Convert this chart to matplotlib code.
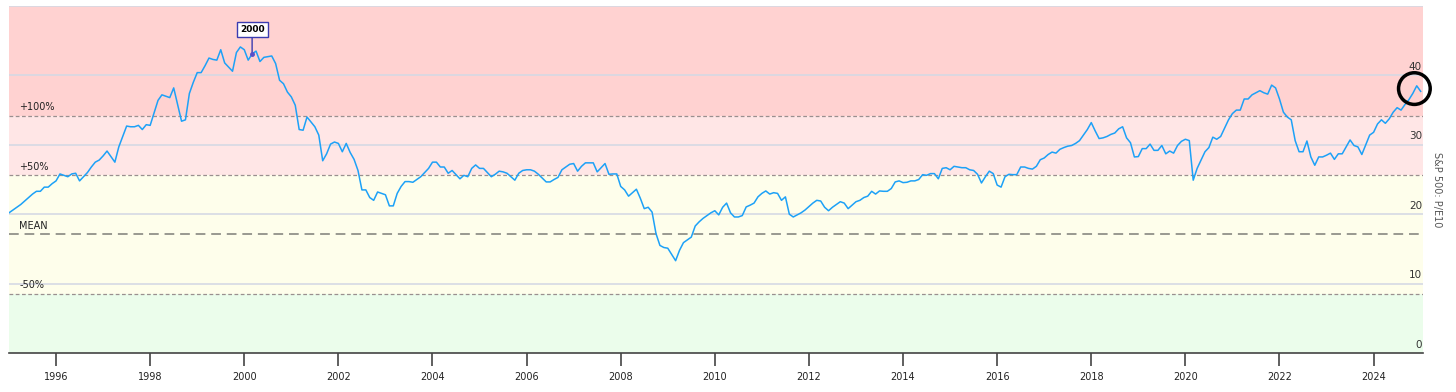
import numpy as np
import matplotlib.pyplot as plt

# Shiller P/E10 (CAPE), monthly, Jan 1995 .. Jan 2025
start_year = 1995
pe10 = [
    # 1995
    20.2, 20.6, 21.0, 21.4, 21.9, 22.4, 22.9, 23.3, 23.3, 23.9, 23.9, 24.4,
    # 1996
    24.8, 25.8, 25.6, 25.4, 25.8, 25.9, 24.8, 25.4, 26.0, 26.8, 27.5, 27.8,
    # 1997
    28.4, 29.1, 28.3, 27.5, 29.7, 31.2, 32.7, 32.6, 32.6, 32.8, 32.2, 32.9,
    # 1998
    32.8, 34.6, 36.4, 37.2, 37.0, 36.8, 38.2, 35.8, 33.4, 33.6, 37.4, 39.0,
    # 1999
    40.4, 40.4, 41.4, 42.5, 42.3, 42.2, 43.7, 41.8, 41.2, 40.6, 43.3, 44.1,
    # 2000
    43.7, 42.2, 43.1, 43.5, 42.0, 42.6, 42.7, 42.8, 41.7, 39.3, 38.8, 37.6,
    # 2001
    36.9, 35.7, 32.2, 32.1, 34.0, 33.3, 32.6, 31.4, 27.7, 28.7, 30.1, 30.4,
    # 2002
    30.2, 29.0, 30.2, 28.9, 27.9, 26.3, 23.5, 23.5, 22.4, 22.0, 23.2, 23.0,
    # 2003
    22.8, 21.2, 21.2, 23.0, 24.0, 24.7, 24.7, 24.6, 25.0, 25.4, 26.0, 26.6,
    # 2004
    27.5, 27.5, 26.8, 26.8, 25.9, 26.3, 25.7, 25.1, 25.6, 25.4, 26.6, 27.1,
    # 2005
    26.6, 26.6, 26.0, 25.4, 25.75, 26.2, 26.1, 25.9, 25.4, 24.9, 25.9, 26.3,
    # 2006
    26.4, 26.4, 26.2, 25.75, 25.2, 24.65, 24.65, 25.0, 25.3, 26.4, 26.8, 27.2,
    # 2007
    27.3, 26.2, 26.9, 27.4, 27.4, 27.4, 26.1, 26.7, 27.3, 25.75, 25.8, 25.8,
    # 2008
    24.0, 23.5, 22.6, 23.1, 23.6, 22.3, 20.8, 21.0, 20.3, 17.2, 15.5, 15.2,
    # 2009
    15.1, 14.2, 13.3, 14.8, 15.9, 16.3, 16.7, 18.3, 18.9, 19.4, 19.8, 20.2,
    # 2010
    20.5, 19.9, 21.0, 21.6, 20.2, 19.6, 19.6, 19.8, 21.05, 21.3, 21.6, 22.5,
    # 2011
    23.0, 23.35, 22.9, 23.1, 23.0, 22.0, 22.5, 20.0, 19.6, 19.9, 20.2, 20.6,
    # 2012
    21.1, 21.6, 22.0, 21.9, 21.0, 20.5, 21.0, 21.4, 21.8, 21.6, 20.8, 21.3,
    # 2013
    21.8, 22.0, 22.4, 22.6, 23.3, 22.9, 23.35, 23.3, 23.3, 23.7, 24.65, 24.8,
    # 2014
    24.55, 24.6, 24.8, 24.8, 25.0, 25.7, 25.6, 25.85, 25.85, 25.1, 26.6, 26.7,
    # 2015
    26.4, 26.9, 26.8, 26.7, 26.7, 26.4, 26.3, 25.75, 24.5, 25.4, 26.2, 25.85,
    # 2016
    24.2, 23.9, 25.4, 25.75, 25.7, 25.7, 26.8, 26.8, 26.6, 26.5, 26.9, 27.85,
    # 2017
    28.1, 28.6, 28.95, 28.8, 29.35, 29.6, 29.8, 29.9, 30.2, 30.6, 31.4, 32.2,
    # 2018
    33.2, 32.0, 30.9, 31.0, 31.2, 31.5, 31.7, 32.3, 32.6, 31.0, 30.3, 28.25,
    # 2019
    28.3, 29.45, 29.45, 30.1, 29.2, 29.2, 29.9, 28.7, 29.1, 28.8, 29.9, 30.5,
    # 2020
    30.8, 30.6, 24.9, 26.6, 27.8, 29.0, 29.6, 31.1, 30.8, 31.2, 32.4, 33.6,
    # 2021
    34.5, 35.0, 35.0, 36.6, 36.6, 37.2, 37.5, 37.8, 37.5, 37.3, 38.6, 38.2,
    # 2022
    36.6, 34.7, 34.0, 33.6, 30.6, 29.0, 29.0, 30.55, 28.25, 27.05, 28.25, 28.25,
    # 2023
    28.5, 28.8, 27.9, 28.7, 28.7, 29.7, 30.7, 29.9, 29.7, 28.6, 30.0, 31.4,
    # 2024
    31.8, 33.0, 33.6, 33.1, 33.75, 34.7, 35.35, 35.0, 35.8, 36.5, 37.4, 38.5,
    # 2025
    37.7,
]
t = start_year + np.arange(len(pe10)) / 12.0

mean_pe = 17.1
bands = [("+100%", 2.0), ("+50%", 1.5), ("MEAN", 1.0), ("-50%", 0.5)]
year_ticks = list(range(1996, 2025, 2))
y_ticks = [0, 10, 20, 30, 40]
peak_label = "2000"
peak_idx = 5 * 12 + 2   # Mar 2000

fig = plt.figure(figsize=(14.56, 3.92), dpi=100)
ax = fig.add_axes([9 / 1456, 39 / 392, 1414 / 1456, 347 / 392])

x0, x1 = 1995.0, 2025.05
ymax = 50
# zones colorées
ax.axhspan(2.0 * mean_pe, ymax, color="#ffd2d1", zorder=0, lw=0)
ax.axhspan(1.5 * mean_pe, 2.0 * mean_pe, color="#ffe6e6", zorder=0, lw=0)
ax.axhspan(0.5 * mean_pe, 1.5 * mean_pe, color="#fefeeb", zorder=0, lw=0)
ax.axhspan(0, 0.5 * mean_pe, color="#ebfdeb", zorder=0, lw=0)

# grille horizontale
for v in y_ticks[1:] + [ymax]:
    ax.axhline(v, color="#d6d9e4", lw=1.2, zorder=1)

# lignes de référence pointillées
for name, k in bands:
    lvl = k * mean_pe
    if name == "MEAN":
        ax.axhline(lvl, color="#999990", lw=1.4, ls=(0, (5, 3)), zorder=2)
    else:
        ax.axhline(lvl, color="#9a8f8f", lw=0.9, ls=(0, (3, 2)), zorder=2)
    ax.text(x0 + 0.22, lvl + 0.5, name, fontsize=7, color="#222222",
            ha="left", va="bottom", zorder=3)

ax.plot(t, pe10, color="#1da1f7", lw=1.1, zorder=4)

# annotation du pic
ax.annotate(peak_label, xy=(t[peak_idx], pe10[peak_idx]),
            xytext=(t[peak_idx], 46.0), ha="center", va="bottom",
            fontsize=6.5, fontweight="bold",
            bbox=dict(boxstyle="square,pad=0.35", fc="white", ec="#3b3bb0", lw=1),
            arrowprops=dict(arrowstyle="-", color="#3b3bb0", lw=1,
                            shrinkA=0, shrinkB=0), zorder=6)
ax.plot(t[peak_idx], pe10[peak_idx], "o", ms=2.5, color="#5a4fc8", zorder=6)

# cercle sur la dernière valeur
ax.scatter([t[-2] - 0.05], [pe10[-2] - 0.4], s=520, facecolors="none",
           edgecolors="black", linewidths=2.5, zorder=7, clip_on=False)

ax.set_xlim(x0, x1)
ax.set_ylim(0, ymax)
ax.set_xticks(year_ticks)
ax.set_xticklabels([str(y) for y in year_ticks])
ax.tick_params(axis="x", length=9, width=1.2, color="#444444",
               labelsize=7, labelcolor="#222222", pad=5)
ax.set_yticks([])
for v in y_ticks:
    ax.text(x1 - 0.02, v + 0.5, str(v), fontsize=7.5, color="#333333",
            ha="right", va="bottom", zorder=3)

for s in ["top", "right", "left"]:
    ax.spines[s].set_visible(False)
ax.spines["bottom"].set_color("#444444")
ax.spines["bottom"].set_linewidth(1.2)

fig.text(1437 / 1456, 1 - 190 / 392, "S&P 500: P/E10", rotation=270,
         fontsize=7, color="#555555", ha="center", va="center")

fig.savefig("out.png", dpi=100, facecolor="white")
